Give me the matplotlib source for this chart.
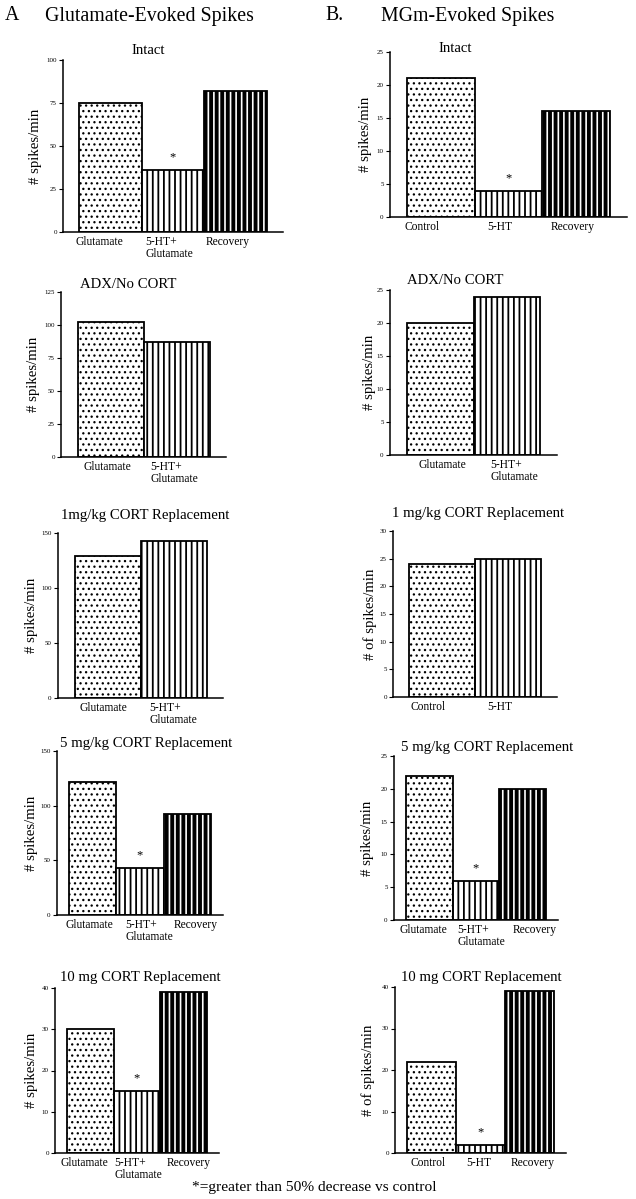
import matplotlib
matplotlib.use('Agg')
import matplotlib.pyplot as plt
from matplotlib.transforms import ScaledTranslation

plt.rcParams['font.family'] = ['Liberation Serif', 'DejaVu Serif']

W, H = 636, 1199

# ---------------- data ----------------
a_intact_labels = ['Glutamate', '5-HT+\nGlutamate', 'Recovery']
a_intact_values = [75, 36, 82]
a_intact_yticks = [0, 25, 50, 75, 100]
a_intact_star = [1]

a_adx_labels = ['Glutamate', '5-HT+\nGlutamate']
a_adx_values = [102, 87]
a_adx_yticks = [0, 25, 50, 75, 100, 125]
a_adx_star = []

a_1mg_labels = ['Glutamate', '5-HT+\nGlutamate']
a_1mg_values = [129, 143]
a_1mg_yticks = [0, 50, 100, 150]
a_1mg_star = []

a_5mg_labels = ['Glutamate', '5-HT+\nGlutamate', 'Recovery']
a_5mg_values = [122, 43, 92]
a_5mg_yticks = [0, 50, 100, 150]
a_5mg_star = [1]

a_10mg_labels = ['Glutamate', '5-HT+\nGlutamate', 'Recovery']
a_10mg_values = [30, 15, 39]
a_10mg_yticks = [0, 10, 20, 30, 40]
a_10mg_star = [1]

b_intact_labels = ['Control', '5-HT', 'Recovery']
b_intact_values = [21, 4, 16]
b_intact_yticks = [0, 5, 10, 15, 20, 25]
b_intact_star = [1]

b_adx_labels = ['Glutamate', '5-HT+\nGlutamate']
b_adx_values = [20, 24]
b_adx_yticks = [0, 5, 10, 15, 20, 25]
b_adx_star = []

b_1mg_labels = ['Control', '5-HT']
b_1mg_values = [24, 25]
b_1mg_yticks = [0, 5, 10, 15, 20, 25, 30]
b_1mg_star = []

b_5mg_labels = ['Glutamate', '5-HT+\nGlutamate', 'Recovery']
b_5mg_values = [22, 6, 20]
b_5mg_yticks = [0, 5, 10, 15, 20, 25]
b_5mg_star = [1]

b_10mg_labels = ['Control', '5-HT', 'Recovery']
b_10mg_values = [22, 2, 39]
b_10mg_yticks = [0, 10, 20, 30, 40]
b_10mg_star = [1]

titles_a = ['Intact', 'ADX/No CORT', '1mg/kg CORT Replacement',
            '5 mg/kg CORT Replacement', '10 mg CORT Replacement']
titles_b = ['Intact', 'ADX/No CORT', '1 mg/kg CORT Replacement',
            '5 mg/kg CORT Replacement', '10 mg CORT Replacement']
ylabels_a = ['# spikes/min'] * 5
ylabels_b = ['# spikes/min', '# spikes/min', '# of spikes/min',
             '# spikes/min', '# of spikes/min']

# ---------------- layout (pixels) ----------------
# (left, right, top, bottom) of each axes, title centre, ylabel x,
# horizontal pixel shifts of the category labels
layout_a = [
    ((63, 283, 60, 232), (148, 50), 35, [-11, -4, -8]),
    ((61, 226, 292, 457), (128, 285), 33, [-3, -2]),
    ((58, 223, 533, 698), (145, 516), 32, [-4, 0]),
    ((57, 223, 751, 915), (146, 743), 32, [-3, 9, 8]),
    ((55, 219, 988, 1153), (140, 977), 32, [-6, 1, 5]),
]
layout_b = [
    ((390, 627, 52, 217), (455, 48), 365, [-19, -9, -3]),
    ((390, 557, 290, 455), (455, 281), 370, [2, 7]),
    ((393, 557, 531, 697), (478, 514), 370, [-14, -8]),
    ((394, 558, 756, 920), (487, 748), 367, [-6, 5, 12]),
    ((395, 566, 987, 1153), (481, 977), 368, [-4, -2, 3]),
]

panels_a = [
    (a_intact_labels, a_intact_values, a_intact_yticks, a_intact_star),
    (a_adx_labels, a_adx_values, a_adx_yticks, a_adx_star),
    (a_1mg_labels, a_1mg_values, a_1mg_yticks, a_1mg_star),
    (a_5mg_labels, a_5mg_values, a_5mg_yticks, a_5mg_star),
    (a_10mg_labels, a_10mg_values, a_10mg_yticks, a_10mg_star),
]
panels_b = [
    (b_intact_labels, b_intact_values, b_intact_yticks, b_intact_star),
    (b_adx_labels, b_adx_values, b_adx_yticks, b_adx_star),
    (b_1mg_labels, b_1mg_values, b_1mg_yticks, b_1mg_star),
    (b_5mg_labels, b_5mg_values, b_5mg_yticks, b_5mg_star),
    (b_10mg_labels, b_10mg_values, b_10mg_yticks, b_10mg_star),
]

fig = plt.figure(figsize=(W / 100, H / 100), dpi=100)
fig.patch.set_facecolor('white')


def px(x, y):
    return x / W, 1 - y / H


def draw_panel(box, tpos, ylx, shifts, data, title, ylabel):
    l, r, t, b = box
    ax = fig.add_axes([l / W, 1 - b / H, (r - l) / W, (b - t) / H])
    labels, values, yticks, stars = data
    n = len(values)
    styles = ['dots', 'lines', 'black']
    for i, v in enumerate(values):
        st = styles[i]
        if st == 'dots':
            with plt.rc_context({'hatch.linewidth': 0.9}):
                ax.bar([i], [v], width=1.0, color='white', edgecolor='black',
                       hatch='...', linewidth=1.3, zorder=2)
        elif st == 'lines':
            with plt.rc_context({'hatch.linewidth': 1.3}):
                ax.bar([i], [v], width=1.0, color='white', edgecolor='black',
                       hatch='|||', linewidth=1.3, zorder=2)
        else:
            with plt.rc_context({'hatch.linewidth': 1.2}):
                ax.bar([i], [v], width=1.0, color='black', edgecolor='white',
                       hatch='|||', linewidth=0, zorder=2)
            ax.bar([i], [v], width=1.0, fill=False, edgecolor='black',
                   linewidth=1.3, zorder=3)
    for i in stars:
        ax.annotate('*', xy=(i, values[i]), xytext=(0, 9),
                    textcoords='offset points', ha='center', va='center',
                    fontsize=9)
    ax.set_xlim(-0.75, n - 0.25)
    ax.set_ylim(yticks[0], yticks[-1])
    ax.set_yticks(yticks)
    ax.set_yticklabels([str(v) for v in yticks])
    ax.set_xticks(range(n))
    ax.set_xticklabels([''] * n)
    base = ax.get_xaxis_transform()
    for i, (lab, dx) in enumerate(zip(labels, shifts)):
        tr = base + ScaledTranslation(dx / 100, -4 / 100, fig.dpi_scale_trans)
        ax.text(i, 0, lab, transform=tr, ha='center', va='top',
                multialignment='left', linespacing=0.95, fontsize=8.3)
    ax.tick_params(axis='x', length=0, pad=3)
    ax.tick_params(axis='y', length=3, width=0.8, labelsize=5, pad=1.5,
                   direction='out')
    for s in ['top', 'right']:
        ax.spines[s].set_visible(False)
    for s in ['left', 'bottom']:
        ax.spines[s].set_linewidth(1.1)
    ax.set_facecolor('none')
    fig.text(*px(*tpos), title, ha='center', va='center', fontsize=10.6)
    fig.text(*px(ylx, (t + b) / 2), ylabel, ha='center', va='center',
             rotation=90, fontsize=10.6)
    return ax


for info, data, title, ylab in zip(layout_a, panels_a, titles_a, ylabels_a):
    draw_panel(info[0], info[1], info[2], info[3], data, title, ylab)
for info, data, title, ylab in zip(layout_b, panels_b, titles_b, ylabels_b):
    draw_panel(info[0], info[1], info[2], info[3], data, title, ylab)

# headers
fig.text(*px(5, 16), 'A', ha='left', va='center', fontsize=14.3)
fig.text(*px(45, 16), 'Glutamate-Evoked Spikes', ha='left', va='center',
         fontsize=14.3)
fig.text(*px(325, 16), 'B.', ha='left', va='center', fontsize=14.3)
fig.text(*px(381, 16), 'MGm-Evoked Spikes', ha='left', va='center',
         fontsize=14.3)
fig.text(*px(192, 1187), '*=greater than 50% decrease vs control', ha='left',
         va='center', fontsize=11.1)

fig.savefig('out.png', dpi=100, facecolor='white')
